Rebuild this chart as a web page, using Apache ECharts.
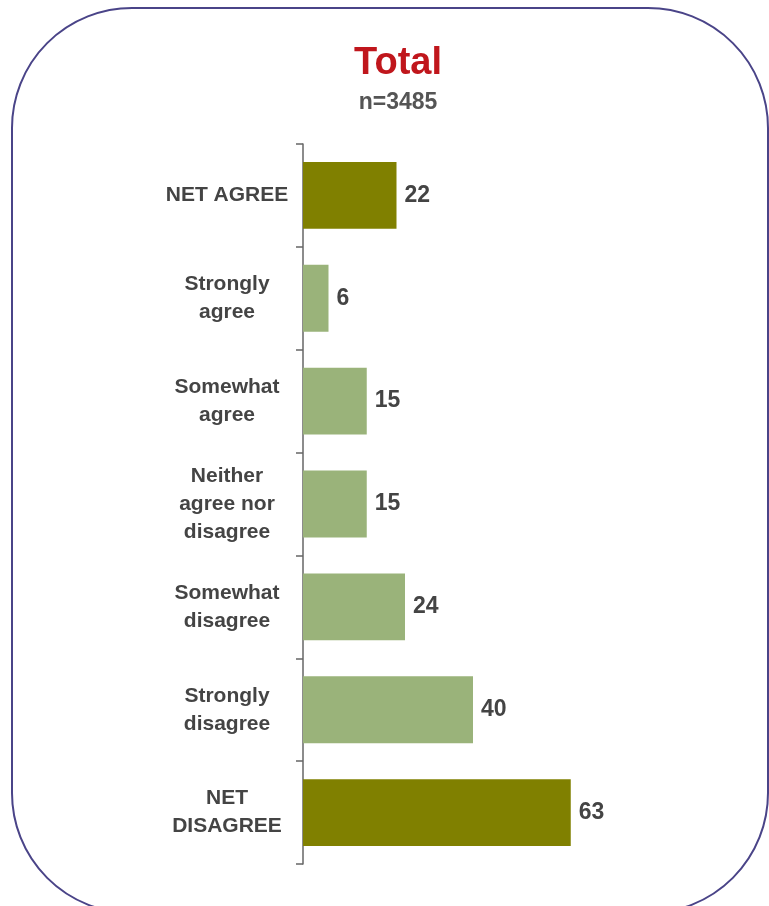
<!DOCTYPE html>
<html>
<head>
<meta charset="utf-8">
<script src="https://cdn.jsdelivr.net/npm/echarts@6/dist/echarts.min.js"></script>
<style>
  html, body { margin: 0; padding: 0; background: #fff; }
  #chart { width: 769px; height: 906px; }
</style>
</head>
<body>
<div id="chart"></div>
<script>
// categories, top to bottom
const categories = [
  "NET AGREE",
  "Strongly\nagree",
  "Somewhat\nagree",
  "Neither\nagree nor\ndisagree",
  "Somewhat\ndisagree",
  "Strongly\ndisagree",
  "NET\nDISAGREE"
];
const values = [22, 6, 15, 15, 24, 40, 63];
const isNet = [true, false, false, false, false, false, true];

const olive = "#808000";
const lightGreen = "#9AB37A";
const textGray = "#444444";

const chart = echarts.init(document.getElementById("chart"));

const option = {
  animation: false,
  title: {
    text: "Total",
    subtext: "n=3485",
    left: 393,
    textAlign: "center",
    top: 40,
    itemGap: 8,
    textStyle: {
      color: "#C0161C",
      fontSize: 38,
      fontWeight: "bold",
      fontFamily: "Liberation Sans"
    },
    subtextStyle: {
      color: "#555555",
      fontSize: 23,
      fontWeight: "bold",
      fontFamily: "Liberation Sans"
    }
  },
  graphic: [
    {
      type: "rect",
      shape: { x: 12, y: 8, width: 756, height: 905, r: 120 },
      style: { fill: "none", stroke: "#4A4488", lineWidth: 2 },
      silent: true,
      z: -1
    }
  ],
  grid: {
    left: 303,
    top: 144,
    width: 425,
    height: 720
  },
  xAxis: {
    type: "value",
    min: 0,
    max: 100,
    show: false
  },
  yAxis: {
    type: "category",
    data: categories,
    inverse: true,
    axisLine: { lineStyle: { color: "#666666", width: 1.5 } },
    axisTick: { show: true, length: 7, lineStyle: { color: "#666666", width: 1.5 } },
    axisLabel: {
      align: "center",
      margin: 76,
      color: textGray,
      fontSize: 21,
      fontWeight: "bold",
      fontFamily: "Liberation Sans",
      lineHeight: 28
    }
  },
  series: [
    {
      type: "bar",
      data: values.map((v, i) => ({
        value: v,
        itemStyle: { color: isNet[i] ? olive : lightGreen }
      })),
      barCategoryGap: "35%",
      label: {
        show: true,
        position: "right",
        distance: 8,
        color: textGray,
        fontSize: 23,
        fontWeight: "bold",
        fontFamily: "Liberation Sans"
      }
    }
  ]
};

chart.setOption(option);
</script>
</body>
</html>
